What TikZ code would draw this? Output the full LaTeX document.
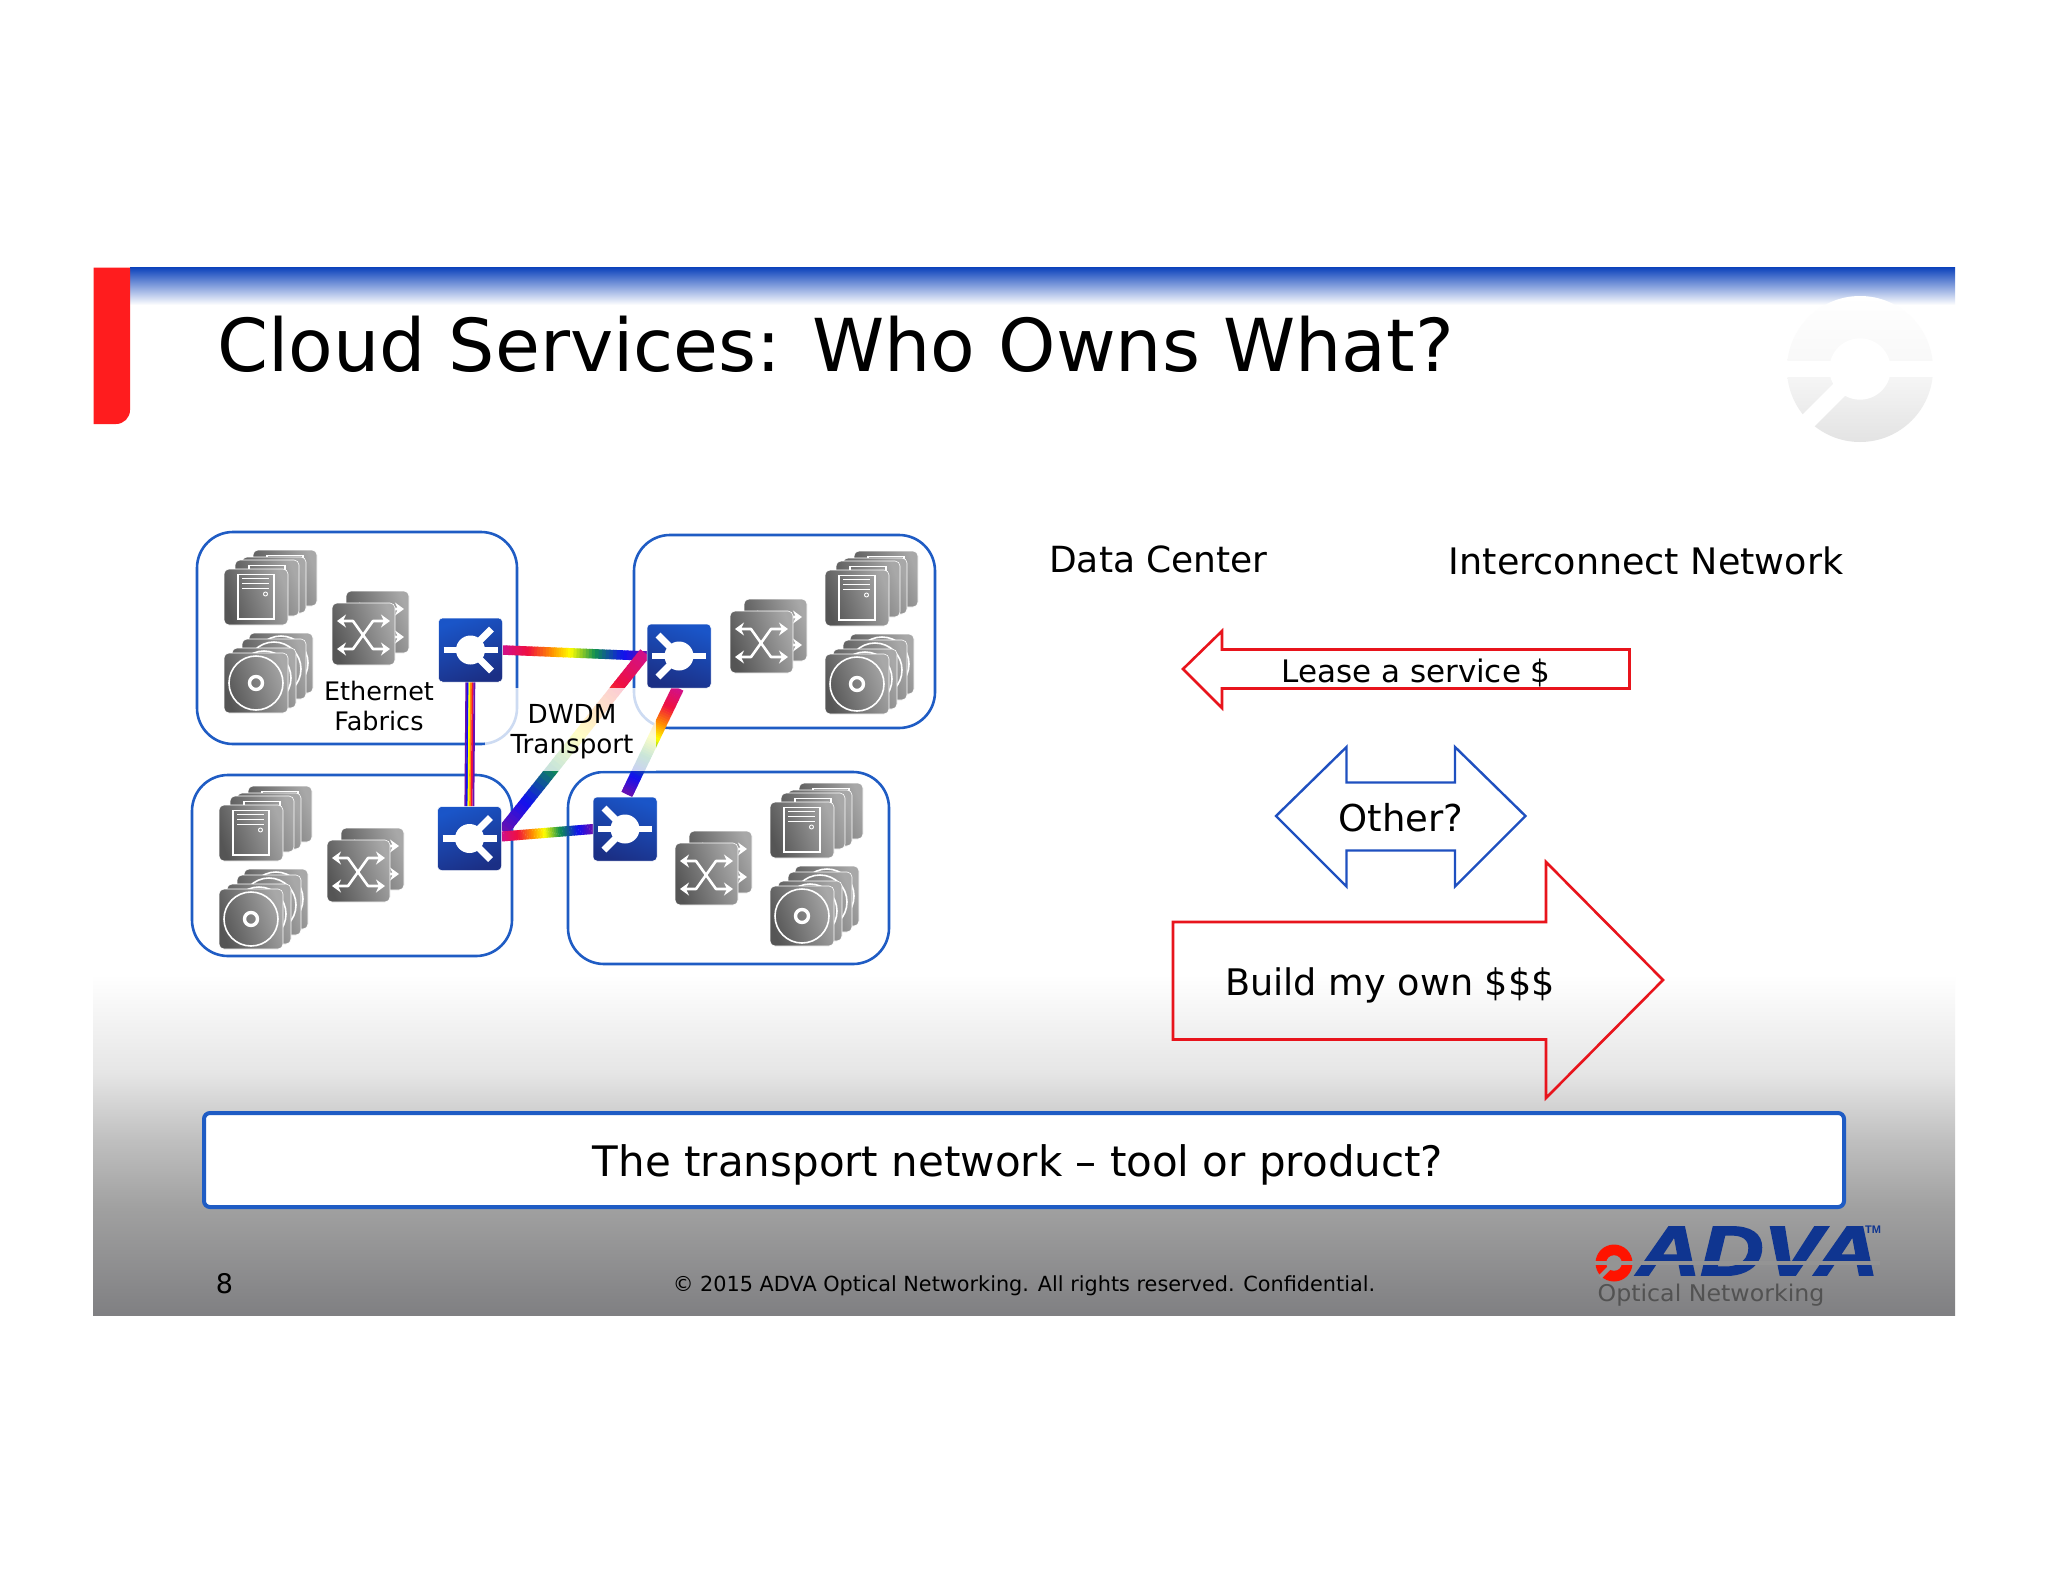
\documentclass[tikz,border=0pt]{standalone}
\usepackage{fontspec}
\setmainfont{DejaVu Sans}
\newfontfamily\logofont{Liberation Sans}
\usetikzlibrary{calc,arrows.meta}
\pgfdeclarelayer{back}
\pgfsetlayers{back,main}
\definecolor{dcblue}{HTML}{1F5CC4}
\definecolor{arrred}{HTML}{E8141C}
\definecolor{barred}{HTML}{FF1C1E}
\definecolor{arrblue}{HTML}{1F50C0}
\definecolor{rbA}{HTML}{D0108C}
\definecolor{rbB}{HTML}{F01040}
\definecolor{rbC}{HTML}{FF9000}
\definecolor{rbD}{HTML}{FFFF00}
\definecolor{rbE}{HTML}{109050}
\definecolor{rbF}{HTML}{1010F0}
\definecolor{rbG}{HTML}{6A10B0}
\definecolor{logoblue}{HTML}{0F3590}
\definecolor{cardA}{HTML}{555555}
\definecolor{cardB}{HTML}{A8A8A8}
\definecolor{swtop}{HTML}{1A55C8}
\definecolor{swbot}{HTML}{1B2F85}
\definecolor{bandA}{HTML}{0E44BC}
\definecolor{bandB}{HTML}{4A90DC}
\definecolor{footgray}{HTML}{949494}
\pgfdeclareverticalshading{footgrad}{100bp}{rgb(0bp)=(.5,.5,.51); rgb(25bp)=(.5,.5,.51); rgb(40.9bp)=(.63,.63,.63); rgb(50.7bp)=(.75,.75,.75); rgb(60.6bp)=(.9,.9,.9); rgb(75bp)=(1,1,1); rgb(100bp)=(1,1,1)}
\newcommand\fsz[2]{\fontsize{#1}{#2}\selectfont}
\tikzset{
  dcbox/.style={draw=dcblue,line width=2.6pt,rounded corners=36pt,inner sep=0pt,outer sep=0pt},
  swbox/.style={rounded corners=4pt,minimum width=64pt,minimum height=64pt,inner sep=0pt,outer sep=0pt,
     draw=white,line width=.5pt,top color=swtop,bottom color=swbot,shading angle=#1},
  card/.style={draw=white,line width=.6pt,rounded corners=5pt,left color=cardA,right color=cardB,shading angle=110},
  iconline/.style={draw=white,line width=1.9pt},
  redarrow/.style={draw=arrred,line width=2.6pt,line join=miter},
  bluearrow/.style={draw=arrblue,line width=2.4pt,line join=miter},
  label/.style={inner sep=0pt,outer sep=0pt,align=center,text=black},
  serverstack/.pic={
    \foreach \dx/\dy in {29/-19,18/-12,11/-9,0/0}{
      \begin{scope}[shift={(\dx,\dy)}]
        \path[card] (0,0) rectangle (64,56);
        \draw[iconline] (14,5.5) rectangle (50,50);
        \draw[iconline,line width=1.7pt] (18,9.5) -- (45,9.5) (18,14.5) -- (45,14.5) (18,19.5) -- (45,19.5);
        \draw[white,line width=.9pt] (41.5,25) circle[radius=2pt];
      \end{scope}}
  },
  diskstack/.pic={
    \foreach \dx/\dy in {25/-20,18/-14,8/-5,0/0}{
      \begin{scope}[shift={(\dx,\dy)}]
        \path[card] (0,0) rectangle (64,60);
        \draw[iconline,line width=1.6pt] (32,30) circle[radius=27pt];
        \draw[white,line width=3.4pt] (32,30) circle[radius=6.5pt];
      \end{scope}}
  },
  switchstack/.pic={
    \foreach \dx/\dy in {14/-12,0/0}{
      \begin{scope}[shift={(\dx,\dy)}]
        \path[card] (0,0) rectangle (63,62);
        \draw[white,line width=2.6pt,line join=round,{Stealth[length=9pt,width=13pt]}-{Stealth[length=9pt,width=13pt]}] (5,18) -- (21,18) -- (41,46) -- (58,46);
        \draw[white,line width=2.6pt,line join=round,{Stealth[length=9pt,width=13pt]}-{Stealth[length=9pt,width=13pt]}] (5,46) -- (21,46) -- (41,18) -- (58,18);
      \end{scope}}
  },
}
% icon on a switch node: #2=1 branches to the right, -1 to the left
\newcommand\swicon[2]{%
  \begin{scope}[shift={(#1.center)}]
    \draw[white,line width=6.8pt] (-27,0) -- (27,0);
    \draw[white,line width=6.8pt] (0,0) -- (#2*21,-21) (0,0) -- (#2*21,21);
    \fill[white] (0,0) circle[radius=14.5pt];
  \end{scope}}
% rainbow connector, from #1 to #2, width #3
\newcommand\rainbowlink[3]{%
  \foreach \ca/\cb/\ta/\tb in {rbA/rbB/0/.18,rbB/rbC/.18/.34,rbC/rbD/.34/.47,rbD/rbE/.47/.64,rbE/rbF/.64/.84,rbF/rbG/.84/1}{
    \foreach \k in {0,...,7}{
      \pgfmathsetmacro\tsa{\ta+(\tb-\ta)*\k/8}
      \pgfmathsetmacro\tsb{\tsa+(\tb-\ta)/8+.004}
      \pgfmathsetmacro\pct{100-100*(\k+.5)/8}
      \draw[line width=#3,color=\ca!\pct!\cb] ($(#1)!\tsa!(#2)$) -- ($(#1)!\tsb!(#2)$);
    }}}
% disc emblem: x,y,radius,disc options,gap colour
\newcommand\emblem[5]{%
  \begin{scope}[shift={(#1,#2)},scale=#3]
    \path[#4] (0,0) circle[radius=1];
    \fill[#5] (0,0) circle[radius=.42];
    \fill[#5] (-1.02,-.115) rectangle (-.2,.115);
    \fill[#5] (.2,-.115) rectangle (1.02,.115);
    \draw[#5,line width=#3*.23pt] (0,0) -- (-.76,.76);
  \end{scope}}
\begin{document}
\begin{tikzpicture}[x=1pt,y=-1pt]
\useasboundingbox (0,0) rectangle (2048,1582);
\begin{pgfonlayer}{back}
  \fill[white] (0,0) rectangle (2048,1582);
  % slide furniture
  \shade[shading=footgrad] (93,975) rectangle (1955,1315);
  \shade[top color=bandA,middle color=bandB,bottom color=white] (130,267.5) rectangle (1955,305);
  \fill[barred] (93.5,267.5) -- (130,267.5) -- (130,410) arc[start angle=0,end angle=-90,radius=14pt] -- (93.5,424) -- cycle;
\end{pgfonlayer}
\emblem{1860}{369}{73}{top color=white,bottom color=black!11!white,middle color=black!3!white}{white}
% site boxes
\begin{pgfonlayer}{back}
  \node[dcbox,minimum width=320pt,minimum height=212pt] (tl) at (357,638) {};
  \node[dcbox,minimum width=301pt,minimum height=193pt] (tr) at (784.5,631.5) {};
  \node[dcbox,minimum width=320pt,minimum height=181pt] (bl) at (352,865.5) {};
  \node[dcbox,minimum width=321pt,minimum height=192pt] (br) at (728.5,868) {};
\end{pgfonlayer}
% transport switches
\node[swbox=20] (swa) at (470.5,650) {};
\node[swbox=-20] (swb) at (679,656) {};
\node[swbox=20] (swc) at (469.5,838.5) {};
\node[swbox=-20] (swd) at (625,829) {};
\swicon{swa}{1}
\swicon{swb}{-1}
\swicon{swc}{1}
\swicon{swd}{-1}
% connectors
\begin{pgfonlayer}{back}
  \rainbowlink{swa.east}{swb.west}{9.5pt}
  \rainbowlink{[shift={(-2,-3)}]swb.west}{[shift={(2,-8)}]swc.east}{12pt}
  \rainbowlink{[shift={(-1,0)}]swb.south}{[shift={(2,-3)}]swd.north}{12pt}
  \rainbowlink{[shift={(0,-2)}]swc.east}{swd.west}{10pt}
  \foreach \off/\col in {-4.2/rbG,-2.7/rbF,-1/rbD,.6/rbC,2.2/rbB,3.9/rbG}
    \draw[line width=1.8pt,color=\col] ([xshift=\off pt]swa.south) -- ([xshift=\off pt]swc.north);
  % the label's pale veil
  \fill[white,opacity=.78] (485,688) rectangle (656,771);
\end{pgfonlayer}
% equipment stacks
\pic at (224,569) {serverstack};
\pic at (224,653) {diskstack};
\pic at (332,603) {switchstack};
\pic at (219,805) {serverstack};
\pic at (219,889) {diskstack};
\pic at (327,840) {switchstack};
\pic at (825,570) {serverstack};
\pic at (825,654) {diskstack};
\pic at (730,611) {switchstack};
\pic at (770,802) {serverstack};
\pic at (770,886) {diskstack};
\pic at (675,843) {switchstack};
% title
\node[label,font=\fsz{73}{80}] (title) at (835.5,344) {Cloud Services: Who Owns What?};
\node[label,font=\fsz{25.5}{30}] (eth) at (379,706) {Ethernet\\Fabrics};
\node[label,font=\fsz{26.2}{30}] (dwdm) at (572,732) {DWDM\\Transport};
\node[label,font=\fsz{36}{40}] (dc) at (1158.5,559) {Data Center};
\node[label,font=\fsz{36.5}{40}] (ic) at (1646,561) {Interconnect Network};
% arrows
\draw[redarrow] (1183,669) -- (1222,631) -- (1222,649.5) -- (1629.5,649.5) -- (1629.5,688.5) -- (1222,688.5) -- (1222,708) -- cycle;
\node[label,font=\fsz{31}{36}] (lease) at (1416,673) {Lease a service \$};
\draw[bluearrow] (1276,816) -- (1346.5,747) -- (1346.5,782.5) -- (1455,782.5) -- (1455,747) -- (1525.5,816) -- (1455,886.5) -- (1455,850.5) -- (1346.5,850.5) -- (1346.5,886.5) -- cycle;
\node[label,font=\fsz{37}{40}] (other) at (1401,818) {Other?};
\draw[redarrow] (1173,922) -- (1546,922) -- (1546,862) -- (1663,980) -- (1546,1098) -- (1546,1039.5) -- (1173,1039.5) -- cycle;
\node[label,font=\fsz{36.6}{40}] (build) at (1390,985) {Build my own \$\$\$};
% question bar
\node[draw=dcblue,line width=4pt,fill=white,rounded corners=6pt,minimum width=1640pt,minimum height=94pt,inner sep=0pt] (bar) at (1024,1160) {};
\node[label,font=\fsz{42}{46}] (q) at (1018,1165) {The transport network -- tool or product?};
% footer
\node[label,font=\fsz{27}{30}] (page) at (224.5,1284) {8};
\node[label,font=\fsz{20.8}{26}] (copy) at (1024,1285.5) {© 2015 ADVA Optical Networking. All rights reserved. Confidential.};
% logo
\node[label,text=logoblue,font=\logofont\addfontfeature{FakeBold=2.5}\bfseries\itshape\fsz{70}{70}] (adva) at (1758,1251) {\scalebox{1.25}[1]{ADVA}};
\fill[footgray] (1640,1261) rectangle (1880,1265);
\node[label,text=logoblue,font=\logofont\bfseries\fsz{11}{12}] (tm) at (1873,1230) {TM};
\emblem{1614}{1263}{18.5}{fill=red!85!orange}{footgray}
\node[label,text=black!68!white,font=\fsz{23}{24}] (opt) at (1711,1295) {\scalebox{1.03}[1]{Optical Networking}};
\end{tikzpicture}
\end{document}
